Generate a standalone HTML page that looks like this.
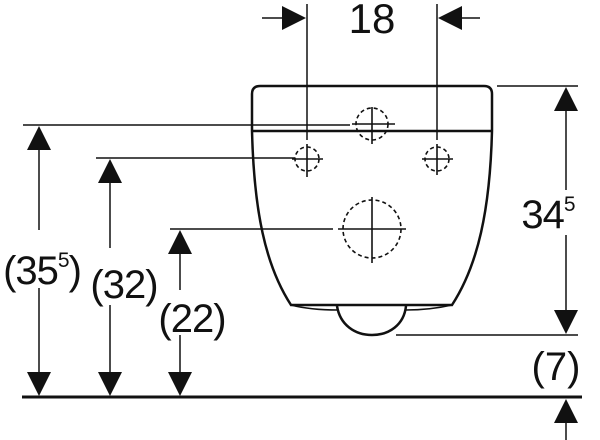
<!DOCTYPE html>
<html><head><style>html,body{margin:0;padding:0;background:#fff}svg{display:block}</style></head><body>
<svg width="600" height="440" viewBox="0 0 600 440" xmlns="http://www.w3.org/2000/svg" font-family="Liberation Sans, sans-serif">
<g stroke="#111" fill="none">
<path d="M252,131 L252,94 Q252,86 260,86 L484,86 Q492,86 492,94 L492,131" stroke-width="2.5"/>
<line x1="252" y1="131" x2="492" y2="131" stroke-width="2.5"/>
<path d="M252,131 C254,210 265,265 291,305 L452,305 C478,265 490,210 492,131" stroke-width="2.5"/>
<path d="M291,305 Q310,310 338,310 M452,305 Q430,310 406,310" stroke-width="1.5"/>
<path d="M337,306 C340,325 355,335 372,335 C389,335 404,325 406,306" stroke-width="2.5"/>
<g stroke-width="1.6" stroke-dasharray="4,3">
<circle cx="307" cy="159" r="12"/><circle cx="437" cy="159" r="12"/>
<circle cx="372" cy="124" r="16"/><circle cx="372" cy="229" r="29"/>
</g>
<g stroke-width="1.6">
<line x1="292" y1="159" x2="323" y2="159"/><line x1="307" y1="144" x2="307" y2="177"/>
<line x1="422" y1="159" x2="453" y2="159"/><line x1="437" y1="144" x2="437" y2="175"/>
<line x1="352" y1="124" x2="395" y2="124"/><line x1="372" y1="107" x2="372" y2="144"/>
<line x1="338" y1="229" x2="406" y2="229"/><line x1="372" y1="197" x2="372" y2="263"/>
</g>
<g stroke-width="1.5">
<line x1="23" y1="125" x2="350" y2="125"/>
<line x1="96" y1="158" x2="295" y2="158"/>
<line x1="170" y1="229" x2="333" y2="229"/>
<line x1="307" y1="4" x2="307" y2="140"/>
<line x1="437" y1="4" x2="437" y2="140"/>
<line x1="497" y1="86" x2="578" y2="86"/>
<line x1="396" y1="335" x2="578" y2="335"/>
<line x1="39" y1="140" x2="39" y2="230"/><line x1="39" y1="288" x2="39" y2="385"/>
<line x1="110" y1="170" x2="110" y2="248"/><line x1="110" y1="305" x2="110" y2="385"/>
<line x1="180" y1="240" x2="180" y2="290"/><line x1="180" y1="335" x2="180" y2="385"/>
<line x1="566" y1="100" x2="566" y2="190"/><line x1="566" y1="235" x2="566" y2="320"/>
<line x1="566" y1="410" x2="566" y2="440"/>
<line x1="262" y1="18" x2="290" y2="18"/><line x1="455" y1="18" x2="480" y2="18"/>
</g>
<line x1="22" y1="397" x2="582" y2="397" stroke-width="3"/>
</g>
<g fill="#111">
<polygon points="39,126 27,150 51,150"/><polygon points="39,396 27,372 51,372"/>
<polygon points="110,159 98,183 122,183"/><polygon points="110,396 98,372 122,372"/>
<polygon points="180,230 168,254 192,254"/><polygon points="180,396 168,372 192,372"/>
<polygon points="566,87 554,111 578,111"/><polygon points="566,334 554,310 578,310"/>
<polygon points="566,399 554,423 578,423"/>
<polygon points="306,18 282,6 282,30"/><polygon points="438,18 462,6 462,30"/>
</g>
<g fill="#111" font-size="40">
<text x="372" y="33" text-anchor="middle" font-size="42">18</text>
<text x="42" y="284" text-anchor="middle" letter-spacing="-1">(35<tspan font-size="21" dy="-17">5</tspan><tspan dy="17">)</tspan></text>
<text x="124" y="298" text-anchor="middle" letter-spacing="-1">(32)</text>
<text x="192" y="332" text-anchor="middle" letter-spacing="-1">(22)</text>
<text x="548" y="228" text-anchor="middle" letter-spacing="-1">34<tspan font-size="21" dy="-17">5</tspan></text>
<text x="556" y="380" text-anchor="middle">(7)</text>
</g>
</svg>
</body></html>
